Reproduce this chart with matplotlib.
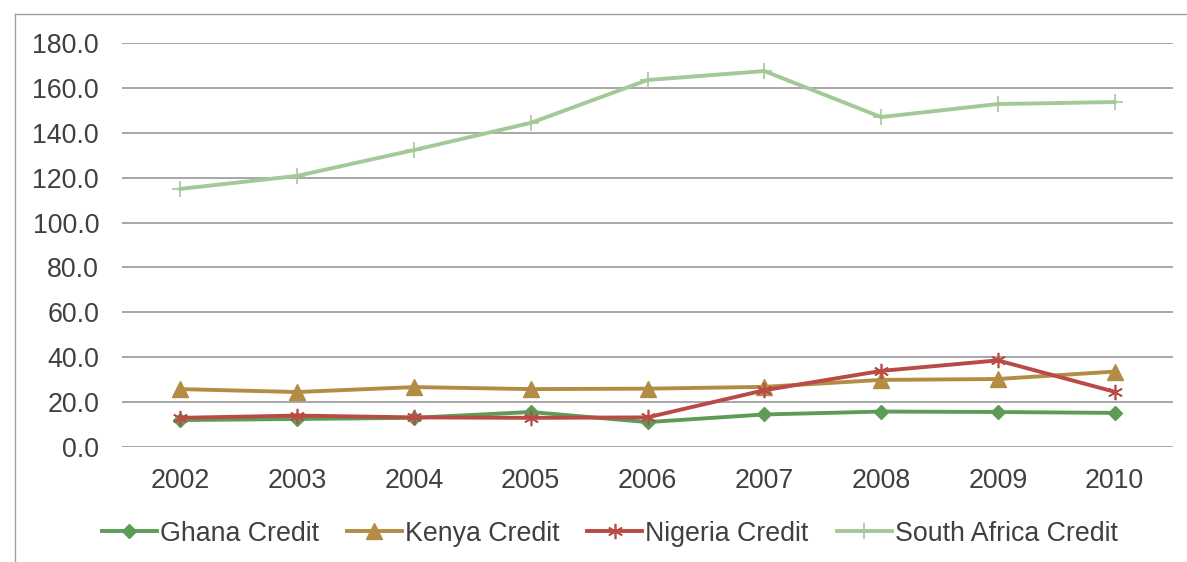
import matplotlib.pyplot as plt
from matplotlib.lines import Line2D

plt.rcParams['font.family'] = ['Liberation Sans', 'DejaVu Sans']

# datos
years = ['2002', '2003', '2004', '2005', '2006', '2007', '2008', '2009', '2010']
ghana = [12.0, 12.5, 13.0, 15.6, 11.1, 14.5, 15.8, 15.6, 15.2]
kenya = [25.8, 24.5, 26.7, 25.8, 26.0, 26.8, 29.9, 30.3, 33.6]
nigeria = [13.0, 14.0, 13.2, 13.0, 13.2, 25.3, 33.9, 38.6, 24.6]
south_africa = [115.0, 120.8, 132.3, 144.4, 163.5, 167.5, 147.0, 152.8, 153.7]
y_ticks = [0, 20, 40, 60, 80, 100, 120, 140, 160, 180]

fig = plt.figure(figsize=(11.87, 5.62), dpi=100)
ax = fig.add_axes([0.1028, 0.2046, 0.8854, 0.7189])

x = range(len(years))
ax.plot(x, ghana, color='#5E9B57', lw=2.8, marker='D', ms=7.5, label='Ghana Credit')
ax.plot(x, kenya, color='#B38C45', lw=2.8, marker='^', ms=11, label='Kenya Credit')
ax.plot(x, nigeria, color='#B94A45', lw=2.8, marker=(6, 2, 0), ms=11, mew=1.2,
        label='Nigeria Credit')
ax.plot(x, south_africa, color='#A2C997', lw=2.8, marker='+', ms=12, mew=1.2,
        label='South Africa Credit')

ax.set_xlim(-0.5, 8.5)
ax.set_ylim(0, 180)
ax.set_xticks(list(x))
ax.set_xticklabels(years)
ax.set_yticks(y_ticks)
ax.set_yticklabels([f'{v:.1f}' for v in y_ticks])
ax.tick_params(length=0, labelsize=19.3, labelcolor='#404040')
ax.tick_params(axis='x', pad=15)
ax.tick_params(axis='y', pad=16.5)
ax.yaxis.grid(True, color='#A0A0A0', lw=1.3)
ax.set_axisbelow(True)
for s in ax.spines.values():
    s.set_visible(False)

ax.legend(loc='center', bbox_to_anchor=(0.464, -0.215), ncol=4, frameon=False,
          fontsize=19.3, labelcolor='#404040', handlelength=2.05, handletextpad=0.11,
          columnspacing=1.05)

# marco exterior (solo arriba e izquierda)
fig.add_artist(Line2D([15 / 1187, 15 / 1187], [0, 1 - 14 / 562], color='#A0A0A0', lw=1))
fig.add_artist(Line2D([15 / 1187, 1], [1 - 14 / 562, 1 - 14 / 562], color='#A0A0A0', lw=1))

fig.savefig('out.png', dpi=100)
